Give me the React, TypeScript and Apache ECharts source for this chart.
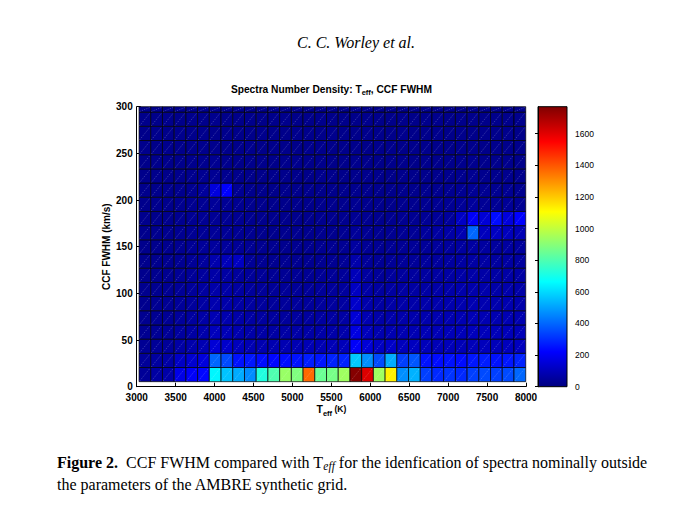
import React, { useEffect, useRef } from "react";
import * as echarts from "echarts";

// ---- data ----
// T_eff bins: first lower edge and width (K); CCF FWHM bins: first lower edge and height (km/s)
const TEFF_START = 3030;
const TEFF_BIN = 150.5;
const FWHM_START = 5.4;
const FWHM_BIN = 15.2;

const xTickValues = [3000, 3500, 4000, 4500, 5000, 5500, 6000, 6500, 7000, 7500, 8000];
const yTickValues = [0, 50, 100, 150, 200, 250, 300];
const colorbarTicks = [0, 200, 400, 600, 800, 1000, 1200, 1400, 1600];
const COUNT_MAX = 1770;

// counts per cell, row 0 = lowest FWHM bin, 33 T_eff bins per row
const row0 = [40, 60, 70, 180, 210, 230, 650, 560, 520, 465, 720, 800, 930, 885, 1365, 850, 870, 940, 1760, 1610, 940, 1130, 470, 530, 330, 290, 310, 290, 330, 350, 330, 350, 400];
const row1 = [45, 55, 65, 120, 140, 160, 400, 350, 250, 260, 240, 230, 240, 250, 270, 260, 280, 280, 570, 470, 350, 520, 330, 370, 250, 240, 250, 240, 260, 270, 250, 260, 280];
const row2 = [35, 40, 45, 65, 75, 90, 150, 130, 105, 90, 85, 85, 88, 88, 92, 90, 95, 100, 210, 150, 115, 125, 105, 110, 100, 95, 100, 95, 100, 105, 100, 105, 110];
const row3 = [30, 35, 40, 55, 62, 75, 105, 95, 80, 70, 65, 62, 64, 66, 66, 68, 70, 76, 170, 105, 82, 86, 86, 90, 92, 95, 98, 100, 105, 100, 98, 100, 98];
const row4 = [28, 32, 36, 48, 55, 66, 90, 82, 70, 62, 56, 52, 52, 54, 54, 57, 58, 64, 150, 88, 70, 74, 76, 78, 80, 84, 88, 90, 94, 90, 86, 90, 86];
const row5 = [26, 30, 34, 44, 50, 60, 80, 74, 64, 56, 50, 46, 46, 48, 48, 50, 52, 57, 130, 76, 62, 66, 68, 70, 72, 76, 80, 82, 86, 82, 78, 82, 78];
const row6 = [25, 28, 32, 40, 46, 56, 72, 68, 58, 50, 45, 41, 41, 43, 42, 45, 46, 51, 115, 66, 54, 58, 60, 62, 64, 68, 72, 75, 78, 75, 71, 75, 71];
const row7 = [24, 26, 29, 37, 43, 52, 66, 62, 52, 45, 41, 37, 36, 37, 36, 39, 41, 45, 100, 56, 45, 49, 51, 53, 56, 60, 64, 67, 70, 67, 64, 67, 64];
const row8 = [23, 25, 27, 34, 40, 50, 80, 100, 115, 41, 34, 31, 30, 31, 30, 31, 34, 37, 75, 45, 38, 41, 43, 45, 49, 52, 56, 60, 63, 60, 56, 60, 56];
const row9 = [22, 23, 25, 30, 37, 45, 52, 48, 41, 34, 30, 28, 27, 28, 27, 28, 30, 34, 55, 38, 34, 36, 38, 41, 45, 49, 52, 56, 60, 56, 52, 56, 52];
const row10 = [22, 24, 26, 30, 34, 38, 40, 38, 34, 30, 26, 24, 25, 27, 25, 27, 26, 30, 42, 34, 30, 32, 36, 38, 50, 58, 66, 85, 400, 105, 115, 105, 95];
const row11 = [23, 22, 24, 29, 32, 36, 38, 34, 32, 27, 24, 23, 22, 24, 23, 25, 24, 27, 34, 30, 26, 27, 30, 32, 38, 42, 50, 120, 210, 150, 240, 160, 220];
const row12 = [21, 23, 22, 27, 30, 34, 42, 38, 30, 26, 23, 22, 20, 21, 22, 24, 23, 26, 30, 26, 24, 22, 26, 27, 30, 32, 36, 42, 50, 38, 36, 40, 34];
const row13 = [22, 20, 24, 26, 29, 50, 160, 220, 34, 24, 21, 20, 22, 21, 23, 20, 22, 24, 26, 23, 22, 21, 24, 23, 26, 27, 30, 34, 38, 32, 30, 34, 27];
const row14 = [20, 21, 19, 24, 26, 30, 34, 27, 22, 20, 19, 21, 22, 20, 18, 23, 21, 20, 22, 24, 21, 19, 22, 20, 21, 24, 26, 27, 30, 26, 24, 26, 23];
const row15 = [18, 22, 20, 21, 24, 27, 30, 23, 19, 21, 22, 18, 21, 23, 20, 22, 19, 21, 23, 20, 18, 22, 21, 19, 23, 21, 22, 24, 26, 22, 21, 23, 20];
const row16 = [21, 19, 23, 20, 22, 26, 24, 21, 20, 23, 18, 22, 20, 19, 23, 21, 18, 22, 20, 19, 23, 21, 18, 22, 24, 20, 19, 23, 21, 18, 22, 20, 21];
const row17 = [19, 22, 18, 23, 21, 24, 20, 22, 19, 18, 23, 20, 18, 22, 21, 19, 23, 20, 18, 22, 21, 19, 23, 18, 20, 22, 19, 21, 18, 23, 20, 22, 19];
const row18 = [20, 18, 22, 19, 24, 21, 26, 20, 18, 22, 19, 21, 23, 18, 20, 22, 18, 21, 19, 23, 20, 18, 22, 19, 21, 24, 18, 20, 22, 19, 21, 20, 23];
const row19 = [18, 21, 16, 24, 20, 26, 22, 18, 21, 16, 20, 23, 18, 21, 17, 22, 20, 18, 24, 21, 19, 22, 18, 20, 23, 19, 21, 18, 22, 20, 19, 21, 18];

const counts = [row0, row1, row2, row3, row4, row5, row6, row7, row8, row9, row10, row11, row12, row13, row14, row15, row16, row17, row18, row19];

// ---- helpers ----
const SANS = "'Liberation Sans', Arial, Helvetica, sans-serif";
const SERIF = "'Liberation Serif', 'Times New Roman', serif";

function clamp01(v: number) {
  return Math.max(0, Math.min(1, v));
}
function jet(t: number) {
  const x = clamp01(t);
  const r = clamp01(Math.min(4 * x - 1.5, -4 * x + 4.5));
  const g = clamp01(Math.min(4 * x - 0.5, -4 * x + 3.5));
  const b = clamp01(Math.min(4 * x + 0.5, -4 * x + 2.5));
  return `rgb(${Math.round(r * 255)},${Math.round(g * 255)},${Math.round(b * 255)})`;
}

const cellData: number[][] = [];
counts.forEach((row, r) => {
  row.forEach((v, c) => {
    cellData.push([
      TEFF_START + c * TEFF_BIN,
      TEFF_START + (c + 1) * TEFF_BIN,
      FWHM_START + r * FWHM_BIN,
      FWHM_START + (r + 1) * FWHM_BIN,
      v,
    ]);
  });
});

export default function App() {
  const ref = useRef<HTMLDivElement>(null);

  useEffect(() => {
    if (!ref.current) return;
    const chart = echarts.init(ref.current, undefined, { renderer: "svg" });

    const cellRender = (params: any, api: any) => {
      const p0 = api.coord([api.value(0), api.value(2)]);
      const p1 = api.coord([api.value(1), api.value(3)]);
      const cs = params.coordSys;
      const left = Math.max(p0[0], cs.x);
      const right = Math.min(p1[0], cs.x + cs.width);
      const bottom = Math.min(p0[1], cs.y + cs.height);
      const top = Math.max(p1[1], cs.y);
      const v = api.value(4);
      return {
        type: "group",
        children: [
          {
            type: "rect",
            shape: { x: left, y: top, width: right - left, height: bottom - top },
            style: { fill: jet(v / COUNT_MAX), stroke: "#000", lineWidth: 0.7 },
          },
          {
            type: "line",
            shape: { x1: left + 0.6, y1: bottom - 0.6, x2: right - 0.6, y2: top + 0.6 },
            style: { stroke: "rgba(255,255,255,0.42)", lineWidth: 0.55, lineDash: [1.2, 1.2] },
          },
        ],
      };
    };

    const colorbarRender = (params: any, api: any) => {
      const p0 = api.coord([api.value(0), api.value(2)]);
      const p1 = api.coord([api.value(1), api.value(3)]);
      return {
        type: "rect",
        shape: { x: p0[0], y: p1[1], width: p1[0] - p0[0], height: p0[1] - p1[1] },
        style: {
          fill: new echarts.graphic.LinearGradient(0, 1, 0, 0, [
            { offset: 0, color: "#000080" },
            { offset: 0.125, color: "#0000ff" },
            { offset: 0.375, color: "#00ffff" },
            { offset: 0.625, color: "#ffff00" },
            { offset: 0.875, color: "#ff0000" },
            { offset: 1, color: "#800000" },
          ]),
          stroke: "#000",
          lineWidth: 1,
        },
      };
    };

    const plain = (v: number) => String(v);
    const axisText = { color: "#000", fontSize: 10, fontWeight: "bold" as const, fontFamily: SANS, formatter: plain };

    const option: any = {
      animation: false,
      backgroundColor: "#ffffff",
      grid: [
        { left: 136.7, right: 684 - 526, top: 106.7, bottom: 511 - 386.7, show: false },
        { left: 538, width: 29, top: 106.7, bottom: 511 - 386.7, show: false },
      ],
      xAxis: [
        {
          type: "value",
          gridIndex: 0,
          min: 3000,
          max: 8000,
          interval: 500,
          axisLine: { show: true, lineStyle: { color: "#000", width: 1 } },
          axisTick: { show: true, inside: true, length: 4, lineStyle: { color: "#000" } },
          axisLabel: { ...axisText, margin: 6, customValues: xTickValues },
          splitLine: { show: false },
        },
        { type: "value", gridIndex: 1, min: 0, max: 1, show: false },
      ],
      yAxis: [
        {
          type: "value",
          gridIndex: 0,
          min: 0,
          max: 300,
          interval: 50,
          axisLine: { show: true, lineStyle: { color: "#000", width: 1 } },
          axisTick: { show: true, inside: true, length: 4, lineStyle: { color: "#000" } },
          axisLabel: { ...axisText, margin: 4, customValues: yTickValues },
          splitLine: { show: false },
        },
        {
          type: "value",
          gridIndex: 1,
          min: 0,
          max: COUNT_MAX,
          position: "right",
          z: 5,
          axisLine: { show: true, lineStyle: { color: "#000", width: 1 } },
          axisTick: { show: true, inside: true, length: 3, customValues: colorbarTicks, lineStyle: { color: "#000" } },
          axisLabel: { color: "#000", fontSize: 8.5, fontFamily: SANS, margin: 8, customValues: colorbarTicks, formatter: plain },
          splitLine: { show: false },
        },
      ],
      series: [
        {
          type: "custom",
          xAxisIndex: 0,
          yAxisIndex: 0,
          renderItem: cellRender,
          data: cellData,
          encode: { x: [0, 1], y: [2, 3] },
          z: 3,
        },
        {
          type: "custom",
          xAxisIndex: 1,
          yAxisIndex: 1,
          renderItem: colorbarRender,
          data: [[0, 1, 0, COUNT_MAX]],
          encode: { x: [0, 1], y: [2, 3] },
          z: 3,
        },
      ],
      graphic: [
        {
          type: "text",
          x: 356,
          y: 42,
          style: {
            text: "C. C. Worley et al.",
            fontFamily: SERIF,
            fontSize: 16,
            fontStyle: "italic",
            fill: "#000",
            align: "center",
            verticalAlign: "middle",
            textAlign: "center",
            textVerticalAlign: "middle",
          },
        },
        {
          type: "text",
          x: 331.4,
          y: 89,
          style: {
            text: "{b|Spectra Number Density: T}{s|eff}{b|, CCF FWHM}",
            align: "center",
            verticalAlign: "middle",
            textAlign: "center",
            textVerticalAlign: "middle",
            rich: {
              b: { fontFamily: SANS, fontSize: 10.2, fontWeight: "bold", fill: "#000", lineHeight: 15, verticalAlign: "middle" },
              s: { fontFamily: SANS, fontSize: 7.5, fontWeight: "bold", fill: "#000", lineHeight: 15, verticalAlign: "bottom" },
            },
          },
        },
        {
          type: "text",
          x: 331.4,
          y: 409,
          style: {
            text: "{b|T}{s|eff}{k| (K)}",
            align: "center",
            verticalAlign: "middle",
            textAlign: "center",
            textVerticalAlign: "middle",
            rich: {
              b: { fontFamily: SANS, fontSize: 10.5, fontWeight: "bold", fill: "#000", lineHeight: 16, verticalAlign: "middle" },
              s: { fontFamily: SANS, fontSize: 7.5, fontWeight: "bold", fill: "#000", lineHeight: 16, verticalAlign: "bottom" },
              k: { fontFamily: SANS, fontSize: 8.5, fontWeight: "bold", fill: "#000", lineHeight: 16, verticalAlign: "middle" },
            },
          },
        },
        {
          type: "text",
          x: 106.5,
          y: 246.7,
          rotation: Math.PI / 2,
          style: {
            text: "CCF FWHM (km/s)",
            fontFamily: SANS,
            fontSize: 10,
            fontWeight: "bold",
            fill: "#000",
            align: "center",
            verticalAlign: "middle",
            textAlign: "center",
            textVerticalAlign: "middle",
          },
        },
        {
          type: "text",
          x: 57,
          y: 462,
          style: {
            text: "{b|Figure 2.}{r|  CCF FWHM compared with T}{s|eff}{r| for the idenfication of spectra nominally outside}",
            align: "left",
            verticalAlign: "middle",
            textAlign: "left",
            textVerticalAlign: "middle",
            rich: {
              b: { fontFamily: SERIF, fontSize: 16, fontWeight: "bold", fill: "#000", lineHeight: 20, verticalAlign: "middle" },
              r: { fontFamily: SERIF, fontSize: 16, fill: "#000", lineHeight: 20, verticalAlign: "middle" },
              s: { fontFamily: SERIF, fontSize: 11.5, fontStyle: "italic", fill: "#000", lineHeight: 20, verticalAlign: "bottom" },
            },
          },
        },
        {
          type: "text",
          x: 57,
          y: 484,
          style: {
            text: "the parameters of the AMBRE synthetic grid.",
            fontFamily: SERIF,
            fontSize: 16,
            fill: "#000",
            align: "left",
            verticalAlign: "middle",
            textAlign: "left",
            textVerticalAlign: "middle",
          },
        },
      ],
    };

    chart.setOption(option);
    return () => {
      chart.dispose();
    };
  }, []);

  return (
    <div
      ref={ref}
      style={{ position: "fixed", left: 0, top: 0, width: 684, height: 511, background: "#fff" }}
    />
  );
}
